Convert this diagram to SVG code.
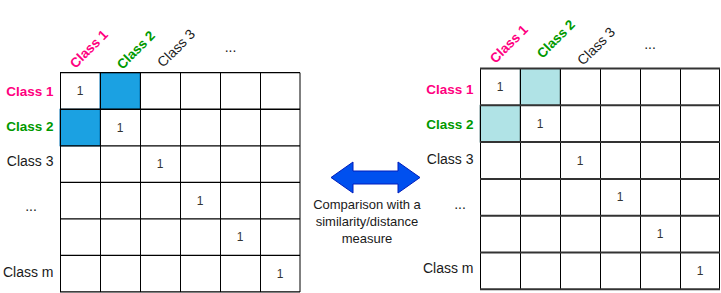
<svg xmlns="http://www.w3.org/2000/svg" width="721" height="293" viewBox="0 0 721 293">
<style>
text{font-family:"Liberation Sans",Arial,sans-serif}
.lab{font-size:14px;fill:#1a1a1a}
.b{font-weight:bold;font-size:13.5px}
.pk{fill:#FF0080}
.gr{fill:#009900}
.one{font-size:12px;fill:#333;text-anchor:middle;dominant-baseline:central}
.cell{fill:#fff;stroke:#000;stroke-width:1}
.vl{stroke:#000;stroke-width:1}
.hl{stroke:#000;stroke-width:1.3}
.hr{stroke:#333;stroke-width:2}
.rt{text-anchor:end;dominant-baseline:central}
.mid{text-anchor:middle;dominant-baseline:central}
</style>
<rect width="721" height="293" fill="#fff"/>

<g id="matrix-left">
  <rect x="60" y="72.7" width="240" height="219.3" fill="#fff"/>
  <rect x="100" y="72.7" width="40" height="36.55" fill="#1BA1E2" stroke="#006EAF"/>
  <rect x="60" y="109.25" width="40" height="36.55" fill="#1BA1E2" stroke="#006EAF"/>
  <g class="hl">
    <line x1="60" y1="72.7" x2="300" y2="72.7"/>
    <line x1="60" y1="109.25" x2="300" y2="109.25"/>
    <line x1="60" y1="145.8" x2="300" y2="145.8"/>
    <line x1="60" y1="182.35" x2="300" y2="182.35"/>
    <line x1="60" y1="218.9" x2="300" y2="218.9"/>
    <line x1="60" y1="255.45" x2="300" y2="255.45"/>
    <line x1="60" y1="291.8" x2="300" y2="291.8"/>
  </g>
  <g class="vl">
    <line x1="60.5" y1="72.7" x2="60.5" y2="292"/>
    <line x1="100.5" y1="72.7" x2="100.5" y2="292"/>
    <line x1="140.5" y1="72.7" x2="140.5" y2="292"/>
    <line x1="180.5" y1="72.7" x2="180.5" y2="292"/>
    <line x1="220.5" y1="72.7" x2="220.5" y2="292"/>
    <line x1="260.5" y1="72.7" x2="260.5" y2="292"/>
    <line x1="300" y1="72.7" x2="300" y2="292"/>
  </g>
  <text class="one" x="80" y="91">1</text>
  <text class="one" x="120" y="127.5">1</text>
  <text class="one" x="160" y="164">1</text>
  <text class="one" x="200" y="200.6">1</text>
  <text class="one" x="240" y="237.2">1</text>
  <text class="one" x="280" y="273.7">1</text>
  <text class="lab b pk rt" x="53.5" y="91.7">Class 1</text>
  <text class="lab b gr rt" x="53.5" y="126.7">Class 2</text>
  <text class="lab rt" x="53.5" y="160.7">Class 3</text>
  <text class="lab" x="31" y="211" text-anchor="middle">...</text>
  <text class="lab rt" x="53.5" y="271.7">Class m</text>
  <text class="lab b pk mid" transform="translate(89,49) rotate(-45)">Class 1</text>
  <text class="lab b gr mid" transform="translate(136,50) rotate(-45)">Class 2</text>
  <text class="lab mid" transform="translate(176,48) rotate(-45)">Class 3</text>
  <text class="lab" x="230.5" y="52" text-anchor="middle">...</text>
</g>

<g id="matrix-right">
  <rect x="480" y="68.5" width="240" height="220.8" fill="#fff"/>
  <rect x="520" y="68.5" width="40" height="36.8" fill="#B0E3E6" stroke="#6C8E8F"/>
  <rect x="480" y="105.3" width="40" height="36.8" fill="#B0E3E6" stroke="#6C8E8F"/>
  <g class="vl">
    <line x1="480.5" y1="68.5" x2="480.5" y2="289.3"/>
    <line x1="520.5" y1="68.5" x2="520.5" y2="289.3"/>
    <line x1="560.5" y1="68.5" x2="560.5" y2="289.3"/>
    <line x1="600.5" y1="68.5" x2="600.5" y2="289.3"/>
    <line x1="640.5" y1="68.5" x2="640.5" y2="289.3"/>
    <line x1="680.5" y1="68.5" x2="680.5" y2="289.3"/>
    <line x1="719.5" y1="68.5" x2="719.5" y2="289.3"/>
  </g>
  <g class="hr">
    <line x1="480" y1="68.5" x2="720" y2="68.5"/>
    <line x1="480" y1="105.3" x2="720" y2="105.3"/>
    <line x1="480" y1="142.1" x2="720" y2="142.1"/>
    <line x1="480" y1="178.9" x2="720" y2="178.9"/>
    <line x1="480" y1="215.7" x2="720" y2="215.7"/>
    <line x1="480" y1="252.5" x2="720" y2="252.5"/>
    <line x1="480" y1="289.3" x2="720" y2="289.3"/>
  </g>
  <text class="one" x="500" y="87.3">1</text>
  <text class="one" x="540" y="124">1</text>
  <text class="one" x="580" y="160.5">1</text>
  <text class="one" x="620" y="197.3">1</text>
  <text class="one" x="660" y="234">1</text>
  <text class="one" x="700" y="270.5">1</text>
  <text class="lab b pk rt" x="473.5" y="89.3">Class 1</text>
  <text class="lab b gr rt" x="473.5" y="124.3">Class 2</text>
  <text class="lab rt" x="473.5" y="159">Class 3</text>
  <text class="lab" x="460" y="209" text-anchor="middle">...</text>
  <text class="lab rt" x="473.5" y="268.3">Class m</text>
  <text class="lab b pk mid" transform="translate(509,44) rotate(-45)">Class 1</text>
  <text class="lab b gr mid" transform="translate(556,39) rotate(-45)">Class 2</text>
  <text class="lab mid" transform="translate(596,46) rotate(-45)">Class 3</text>
  <text class="lab" x="650" y="49" text-anchor="middle">...</text>
</g>

<g id="connectors">
  <polygon points="331,177.5 353,162 353,171 398,171 398,162 420,177.5 398,193 398,184 353,184 353,193" fill="#0050EF" stroke="#001DBC" stroke-width="1"/>
</g>

<g id="label-comparison">
  <text x="367" y="209" font-size="13" fill="#1a1a1a" text-anchor="middle">Comparison with a</text>
  <text x="367" y="226" font-size="13" fill="#1a1a1a" text-anchor="middle">similarity/distance</text>
  <text x="367" y="243" font-size="13" fill="#1a1a1a" text-anchor="middle">measure</text>
</g>
</svg>
